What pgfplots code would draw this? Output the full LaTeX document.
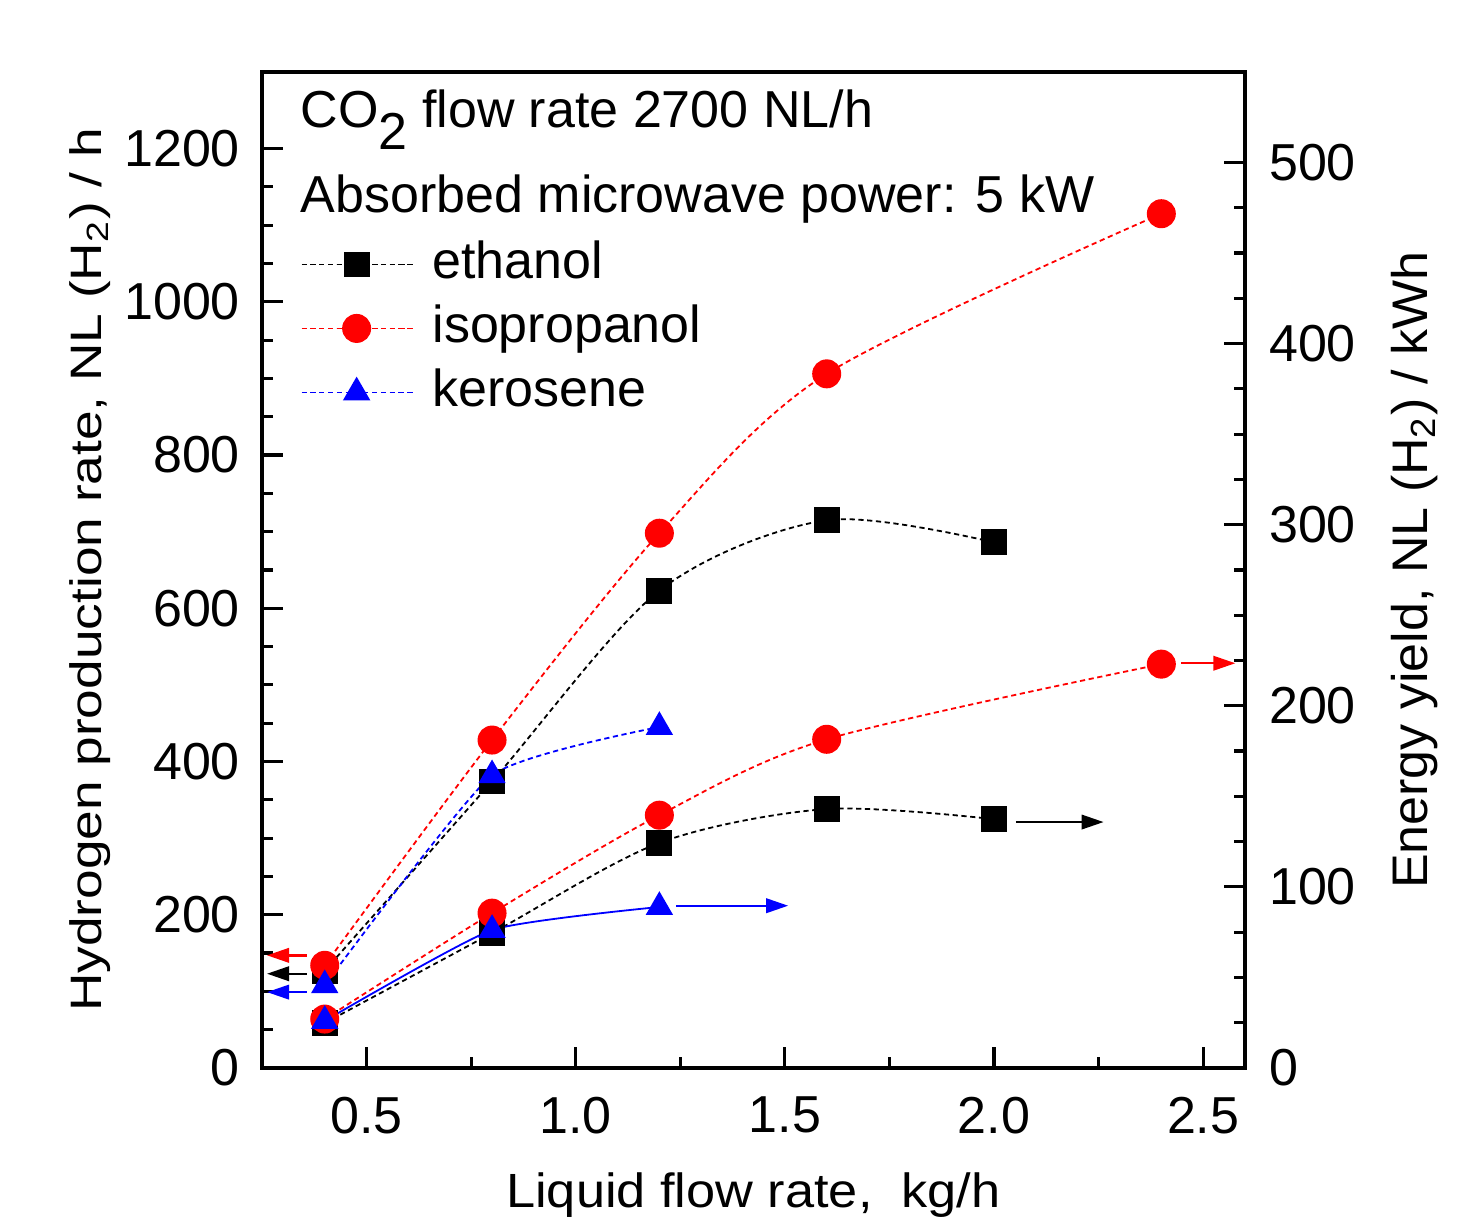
\documentclass[border=0pt]{standalone}
\usepackage{fontspec}
\setmainfont{Liberation Sans}
\newfontfamily\lablA[FakeStretch=1.21]{Liberation Sans}
\newfontfamily\lablB[FakeStretch=1.04]{Liberation Sans}
\newfontfamily\lablX[FakeStretch=1.09]{Liberation Sans}
\usepackage{pgfplots}
\pgfplotsset{compat=1.18}
\usetikzlibrary{arrows.meta}

\pgfplotsset{
  base/.style={
    scale only axis, width=245.75pt, height=249pt,
    xmin=0.25, xmax=2.6,
    axis line style={line width=1pt},
    every tick/.style={line width=0.8pt, black},
    major tick length=5.25pt, minor tick length=2.75pt,
    tick align=inside,
    /pgf/number format/assume math mode=true,
    /pgf/number format/1000 sep={},
    tick label style={font=\fontsize{13}{15}\selectfont},
  },
  dsh/.style={line width=0.45pt, dash pattern=on 1.3pt off 0.9pt, smooth},
  sq/.style={mark=square*, mark size=3pt, mark options={solid, draw=black, fill=black}},
  ci/.style={mark=*, mark size=3.4pt, mark options={solid, draw=red, fill=red}},
  tr/.style={mark=triangle*, mark size=3.5pt, mark options={solid, draw=blue, fill=blue}},
}
\tikzset{arr/.style={line width=0.6pt, -{Triangle[length=5.5pt,width=3.6pt]}}}

\begin{document}
\begin{tikzpicture}
\begin{axis}[base,
  ymin=0, ymax=1300,
  xtick={0.5,1.0,1.5,2.0,2.5}, minor x tick num=1,
  xtick pos=bottom, ytick pos=left,
  xticklabel style={/pgf/number format/.cd, fixed, fixed zerofill, precision=1,
    /tikz/.cd, yshift=-3.75pt},
  yticklabel style={xshift=-2pt},
  ytick={0,200,...,1200}, minor y tick num=3,
  xlabel={Liquid flow rate,\ \ kg/h},
  ylabel={Hydrogen production rate, NL (H\textsubscript{2}) / h},
  xlabel style={at={(axis description cs:0.5,-0.1396)}, anchor=base,
    font=\lablX\fontsize{12}{14}\selectfont},
  ylabel style={at={(axis description cs:-0.1628,0.5)}, anchor=base,
    font=\lablA\fontsize{11}{13}\selectfont},
  legend style={draw=none, fill=none, at={(axis cs:0.3407,1089)}, anchor=north west,
    inner sep=0pt, font=\fontsize{13}{15}\selectfont, legend cell align=left,
    nodes={inner sep=1.5pt, text height=9.5pt, text depth=2.5pt}, row sep=1pt,
    column sep=3pt},
  legend image code/.code={\draw[mark repeat=2, mark phase=2]
    plot coordinates {(0pt,0pt) (13.75pt,0pt) (28pt,0pt)};},
]
% hydrogen production rate (left axis)
\addplot[black, dsh, sq] coordinates {(0.4,127) (0.8,374) (1.2,623) (1.6,715) (2.0,686)};
\addlegendentry{ethanol}
\addplot[red, dsh, ci] coordinates {(0.4,134) (0.8,428) (1.2,698) (1.6,906) (2.4,1115)};
\addlegendentry{isopropanol}
\addplot[blue, dsh, tension=0.3, tr] coordinates {(0.4,108) (0.8,382) (1.2,445)};
\addlegendentry{kerosene}

\node[anchor=base west, font=\fontsize{13}{16}\selectfont, inner sep=0pt]
  at (axis cs:0.3407,1227) {CO\raisebox{-5.5pt}{2} flow rate 2700 NL/h};
\node[anchor=base west, font=\fontsize{13}{16}\selectfont, inner sep=0pt]
  at (axis cs:0.3407,1116) {Absorbed microwave power: 5 kW};

\draw[arr, red] (axis cs:0.357,147) -- (axis cs:0.262,147);
\draw[arr, black] (axis cs:0.357,123) -- (axis cs:0.262,123);
\draw[arr, blue] (axis cs:0.357,99) -- (axis cs:0.262,99);
\end{axis}

\begin{axis}[base,
  ymin=0, ymax=550,
  axis x line=none, axis y line*=right,
  ytick={0,100,...,500}, minor y tick num=3,
  yticklabel style={xshift=2.5pt},
  ylabel={Energy yield, NL (H\textsubscript{2}) / kWh},
  ylabel style={at={(axis description cs:1.186,0.5)}, anchor=base, rotate=0,
    font=\lablB\fontsize{12.5}{14}\selectfont},
]
% energy yield (right axis)
\addplot[black, dsh, sq] coordinates {(0.4,24.8) (0.8,74.5) (1.2,124.3) (1.6,143) (2.0,137.4)};
\addplot[red, dsh, ci] coordinates {(0.4,27) (0.8,85.5) (1.2,139.6) (1.6,181.5) (2.4,223)};
\addplot[blue, line width=0.45pt, smooth, tension=0.3, tr] coordinates {(0.4,26) (0.8,76.2) (1.2,88.9)};

\draw[arr, red] (axis cs:2.448,223.5) -- (axis cs:2.577,223.5);
\draw[arr, black] (axis cs:2.052,135.8) -- (axis cs:2.262,135.8);
\draw[arr, blue] (axis cs:1.240,89.6) -- (axis cs:1.508,89.6);
\end{axis}
\path (-65.5pt,-38.25pt) rectangle (302.5pt,267pt);
\end{tikzpicture}
\end{document}
